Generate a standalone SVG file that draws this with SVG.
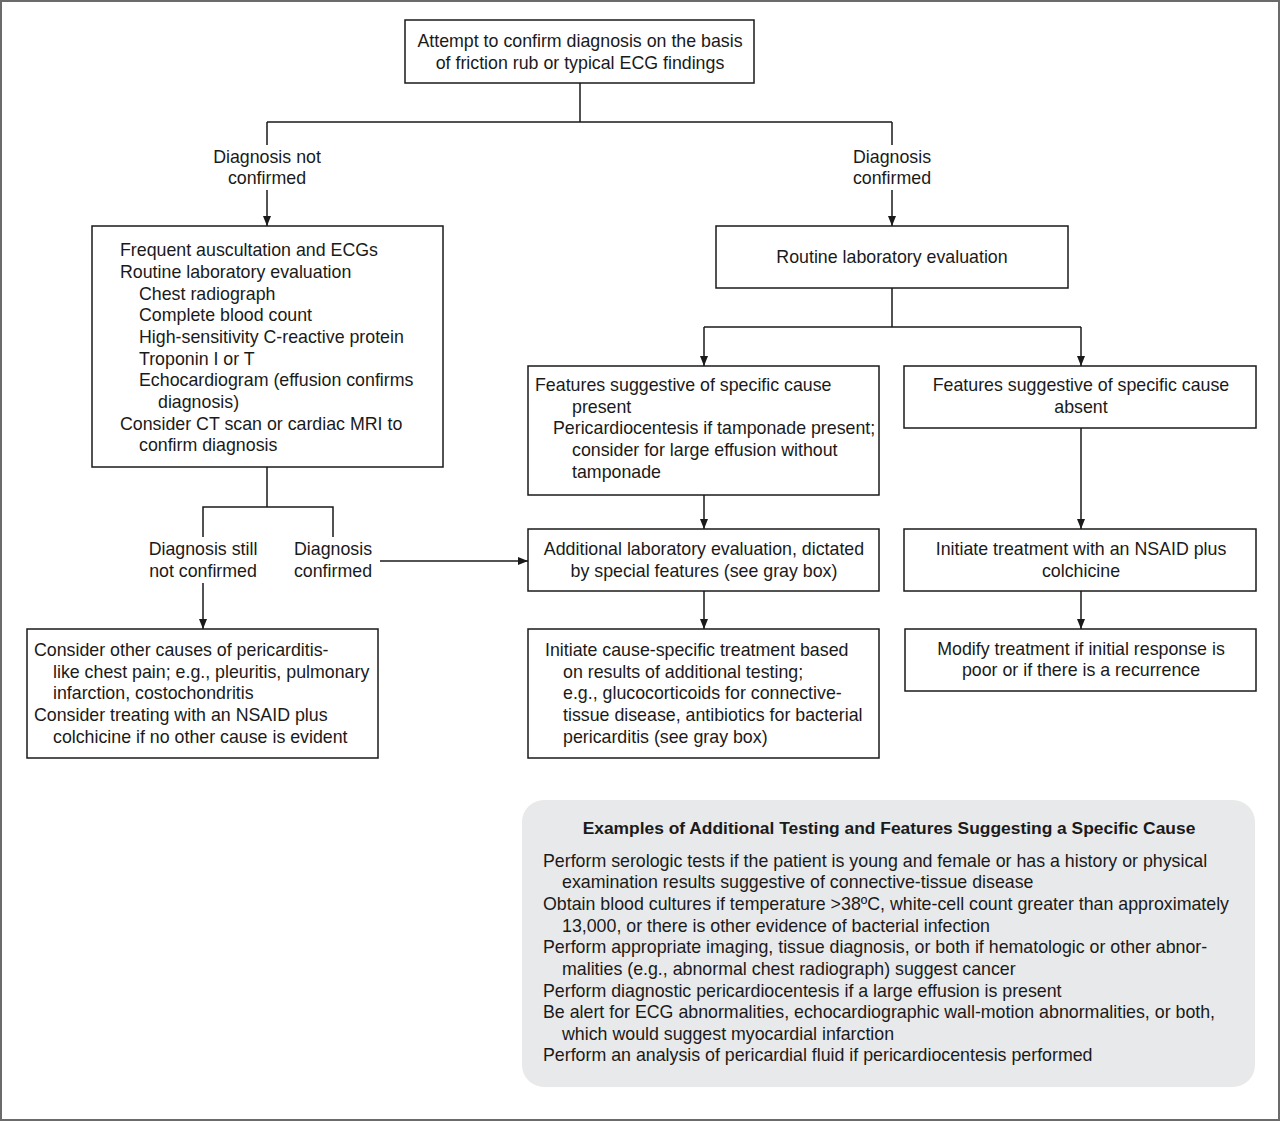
<svg xmlns="http://www.w3.org/2000/svg" width="1280" height="1121" viewBox="0 0 1280 1121">
<style>
text{font-family:"Liberation Sans",Arial,sans-serif;font-size:17.8px;fill:#1a1a1a}
.c{text-anchor:middle}
.b{font-weight:bold;font-size:17.4px}
.box{fill:#fff;stroke:#1a1a1a;stroke-width:1.5}
.ln{fill:none;stroke:#1a1a1a;stroke-width:1.5}
</style>
<defs>
<marker id="ah" viewBox="0 0 10 10" refX="10" refY="5" markerWidth="10" markerHeight="10" markerUnits="userSpaceOnUse" orient="auto">
<path d="M0,1 L10,5 L0,9 z" fill="#1a1a1a"/>
</marker>
</defs>
<rect x="1" y="1" width="1278" height="1119" fill="#fff" stroke="#6b6b6b" stroke-width="2"/>
<g id="connectors">
<path class="ln" d="M580,83 V122 M267,122 H892 M267,122 V145 M892,122 V145"/>
<path class="ln" d="M267,190 V226" marker-end="url(#ah)"/>
<path class="ln" d="M892,190 V226" marker-end="url(#ah)"/>
<path class="ln" d="M892,288 V327 M704,327 H1081"/>
<path class="ln" d="M704,327 V366" marker-end="url(#ah)"/>
<path class="ln" d="M1081,327 V366" marker-end="url(#ah)"/>
<path class="ln" d="M704,495 V529" marker-end="url(#ah)"/>
<path class="ln" d="M1081,428 V529" marker-end="url(#ah)"/>
<path class="ln" d="M704,591 V629" marker-end="url(#ah)"/>
<path class="ln" d="M1081,591 V629" marker-end="url(#ah)"/>
<path class="ln" d="M267,467 V507 M203,537 V507 H333 V537"/>
<path class="ln" d="M380,561 H528" marker-end="url(#ah)"/>
<path class="ln" d="M203,583 V629" marker-end="url(#ah)"/>
</g>
<g id="labels">
<text class="c" x="267" y="163">Diagnosis not</text>
<text class="c" x="267" y="184">confirmed</text>
<text class="c" x="892" y="163">Diagnosis</text>
<text class="c" x="892" y="184">confirmed</text>
<text class="c" x="203" y="555">Diagnosis still</text>
<text class="c" x="203" y="577">not confirmed</text>
<text class="c" x="333" y="555">Diagnosis</text>
<text class="c" x="333" y="577">confirmed</text>
</g>
<g id="n-top">
<rect class="box" x="405" y="20" width="349" height="63"/>
<text class="c" x="580" y="47">Attempt to confirm diagnosis on the basis</text>
<text class="c" x="580" y="69">of friction rub or typical ECG findings</text>
</g>
<g id="n-notconfirmed">
<rect class="box" x="92" y="226" width="351" height="241"/>
<text x="120" y="256">Frequent auscultation and ECGs</text>
<text x="120" y="278">Routine laboratory evaluation</text>
<text x="139" y="300">Chest radiograph</text>
<text x="139" y="321">Complete blood count</text>
<text x="139" y="343">High-sensitivity C-reactive protein</text>
<text x="139" y="365">Troponin I or T</text>
<text x="139" y="386">Echocardiogram (effusion confirms</text>
<text x="158" y="408">diagnosis)</text>
<text x="120" y="430">Consider CT scan or cardiac MRI to</text>
<text x="139" y="451">confirm diagnosis</text>
</g>
<g id="n-routine">
<rect class="box" x="716" y="226" width="352" height="62"/>
<text class="c" x="892" y="263">Routine laboratory evaluation</text>
</g>
<g id="n-present">
<rect class="box" x="528" y="366" width="351" height="129"/>
<text x="535" y="391">Features suggestive of specific cause</text>
<text x="572" y="413">present</text>
<text x="553" y="434">Pericardiocentesis if tamponade present;</text>
<text x="572" y="456">consider for large effusion without</text>
<text x="572" y="478">tamponade</text>
</g>
<g id="n-absent">
<rect class="box" x="904" y="366" width="352" height="62"/>
<text class="c" x="1081" y="391">Features suggestive of specific cause</text>
<text class="c" x="1081" y="413">absent</text>
</g>
<g id="n-additional">
<rect class="box" x="528" y="529" width="351" height="62"/>
<text class="c" x="704" y="555">Additional laboratory evaluation, dictated</text>
<text class="c" x="704" y="577">by special features (see gray box)</text>
</g>
<g id="n-nsaid">
<rect class="box" x="904" y="529" width="352" height="62"/>
<text class="c" x="1081" y="555">Initiate treatment with an NSAID plus</text>
<text class="c" x="1081" y="577">colchicine</text>
</g>
<g id="n-causespecific">
<rect class="box" x="528" y="629" width="351" height="129"/>
<text x="545" y="656">Initiate cause-specific treatment based</text>
<text x="563" y="678">on results of additional testing;</text>
<text x="563" y="699">e.g., glucocorticoids for connective-</text>
<text x="563" y="721">tissue disease, antibiotics for bacterial</text>
<text x="563" y="743">pericarditis (see gray box)</text>
</g>
<g id="n-modify">
<rect class="box" x="905" y="629" width="351" height="62"/>
<text class="c" x="1081" y="655">Modify treatment if initial response is</text>
<text class="c" x="1081" y="676">poor or if there is a recurrence</text>
</g>
<g id="n-other">
<rect class="box" x="27" y="629" width="351" height="129"/>
<text x="34" y="656">Consider other causes of pericarditis-</text>
<text x="53" y="678">like chest pain; e.g., pleuritis, pulmonary</text>
<text x="53" y="699">infarction, costochondritis</text>
<text x="34" y="721">Consider treating with an NSAID plus</text>
<text x="53" y="743">colchicine if no other cause is evident</text>
</g>
<g id="graybox">
<rect x="522" y="800" width="733" height="287" rx="22" fill="#e8e9ea"/>
<text class="c b" x="889" y="834">Examples of Additional Testing and Features Suggesting a Specific Cause</text>
<text x="543" y="867">Perform serologic tests if the patient is young and female or has a history or physical</text>
<text x="562" y="888">examination results suggestive of connective-tissue disease</text>
<text x="543" y="910">Obtain blood cultures if temperature &gt;38ºC, white-cell count greater than approximately</text>
<text x="562" y="932">13,000, or there is other evidence of bacterial infection</text>
<text x="543" y="953">Perform appropriate imaging, tissue diagnosis, or both if hematologic or other abnor-</text>
<text x="562" y="975">malities (e.g., abnormal chest radiograph) suggest cancer</text>
<text x="543" y="997">Perform diagnostic pericardiocentesis if a large effusion is present</text>
<text x="543" y="1018">Be alert for ECG abnormalities, echocardiographic wall-motion abnormalities, or both,</text>
<text x="562" y="1040">which would suggest myocardial infarction</text>
<text x="543" y="1061">Perform an analysis of pericardial fluid if pericardiocentesis performed</text>
</g>
</svg>
